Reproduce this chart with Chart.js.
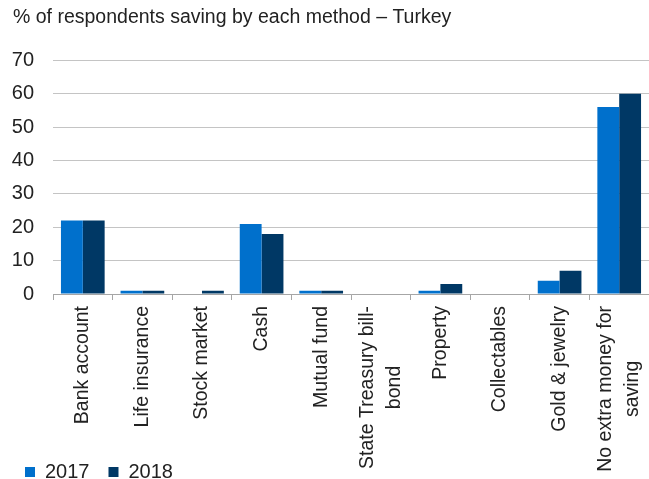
<!DOCTYPE html>
<html>
<head>
<meta charset="utf-8">
<script src="https://cdn.jsdelivr.net/npm/chart.js@4"></script>
<style>
  html, body { margin: 0; padding: 0; background: #fff; overflow: hidden; }
  #wrap { width: 649px; height: 479px; }
</style>
</head>
<body>
<div id="wrap"><canvas id="chartSaving"></canvas></div>
<script>
// data
const categories = [
  'Bank account', 'Life insurance', 'Stock market', 'Cash', 'Mutual fund',
  ['State Treasury bill-', 'bond'], 'Property', 'Collectables', 'Gold & jewelry',
  ['No extra money for', 'saving']
];
const values2017 = [22, 1, 0, 21, 1, 0, 1, 0, 4, 56];
const values2018 = [22, 1, 1, 18, 1, 0, 3, 0, 7, 60];
const yTicks = [0, 10, 20, 30, 40, 50, 60, 70];

const FONT = '"Liberation Sans", Arial, Helvetica, sans-serif';
const TXT = '#222222';

// category labels: rotated, lines centred on each other like the original
const xLabelPlugin = {
  id: 'xLabels',
  afterDraw(chart) {
    const xs = chart.scales.x;
    const c = chart.ctx;
    c.save();
    c.font = '19.5px ' + FONT;
    c.fillStyle = TXT;
    c.textAlign = 'center';
    c.textBaseline = 'middle';
    categories.forEach((lab, i) => {
      const lines = Array.isArray(lab) ? lab : [lab];
      const w = Math.max(...lines.map(l => c.measureText(l).width));
      c.save();
      c.translate(xs.getPixelForTick(i), xs.top + 12);
      c.rotate(-Math.PI / 2);
      lines.forEach((l, j) => c.fillText(l, -w / 2, (j - (lines.length - 1) / 2) * 27));
      c.restore();
    });
    c.restore();
  }
};

// nudge the title a little to the right
const titleShift = {
  id: 'titleShift',
  afterLayout(chart) {
    chart.titleBlock.left += 7;
    chart.titleBlock.right += 7;
  }
};

const ctx = document.getElementById('chartSaving').getContext('2d');

const chartConfig = {
  type: 'bar',
  data: {
    labels: categories,
    datasets: [
      { label: '2017', data: values2017, backgroundColor: '#0070cc' },
      { label: '2018', data: values2018, backgroundColor: '#003865' }
    ]
  },
  options: {
    responsive: true,
    maintainAspectRatio: false,
    animation: false,
    categoryPercentage: 0.733,
    barPercentage: 1,
    layout: { padding: { left: 6, right: -4, top: 6, bottom: -13 } },
    plugins: {
      title: {
        display: true,
        text: '% of respondents saving by each method \u2013 Turkey',
        align: 'start',
        color: TXT,
        font: { family: FONT, size: 19.5, weight: 'normal' },
        padding: { top: 0, bottom: 31 }
      },
      legend: {
        position: 'bottom',
        align: 'start',
        labels: {
          color: TXT,
          font: { family: FONT, size: 20 },
          boxWidth: 10,
          boxHeight: 10,
          padding: 19
        }
      },
      tooltip: { enabled: false }
    },
    scales: {
      x: {
        grid: {
          display: true,
          drawOnChartArea: false,
          drawTicks: true,
          tickLength: 6,
          color: '#a6a6a6'
        },
        border: { display: true, color: '#a6a6a6' },
        ticks: { display: false },
        afterFit: (scale) => { scale.height = 149; }
      },
      y: {
        min: 0,
        max: 70,
        afterBuildTicks: (scale) => { scale.ticks = yTicks.map(v => ({ value: v })); },
        afterFit: (scale) => { scale.width = 47; },
        grid: { color: '#c4c4c4', drawTicks: false },
        border: { display: false },
        ticks: {
          color: TXT,
          font: { family: FONT, size: 20 },
          padding: 19
        }
      }
    }
  },
  plugins: [xLabelPlugin, titleShift]
};

new Chart(ctx, chartConfig);
</script>
</body>
</html>
